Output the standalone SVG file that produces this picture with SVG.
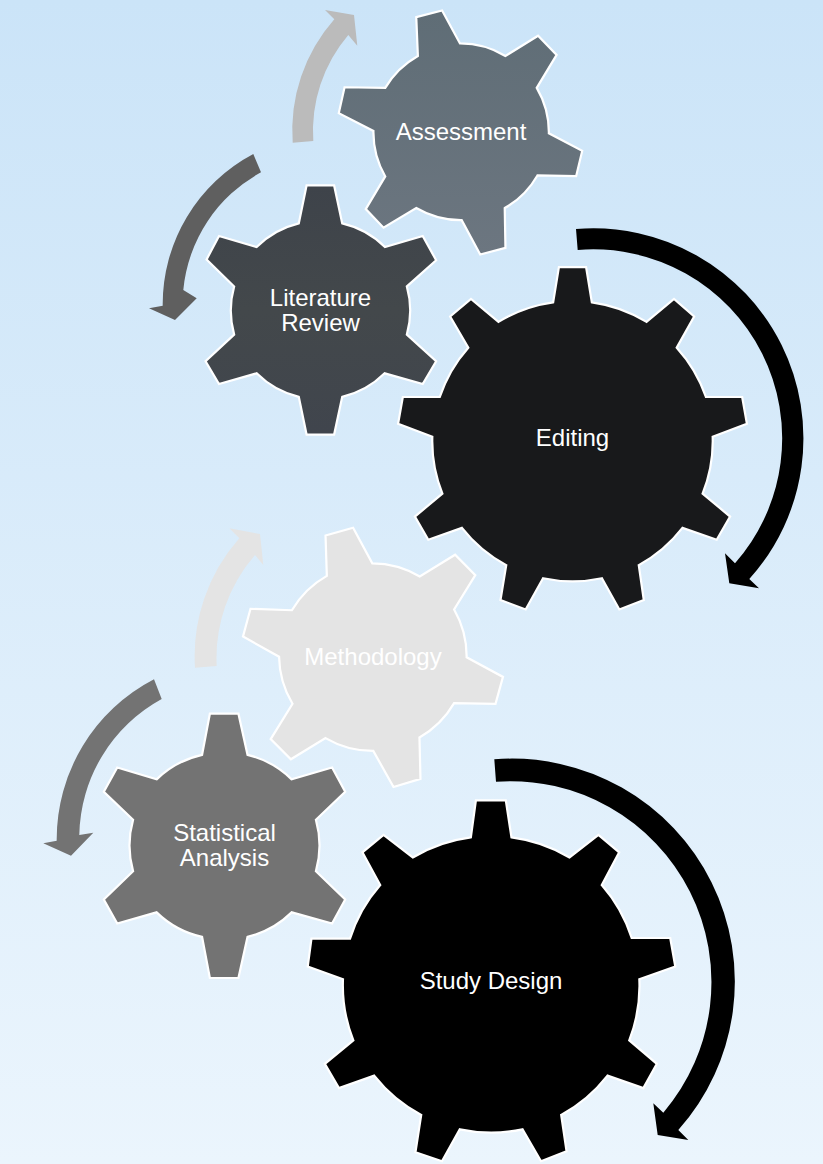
<svg xmlns="http://www.w3.org/2000/svg" width="823" height="1164" viewBox="0 0 823 1164">
<defs>
<linearGradient id="bg" x1="0" y1="0" x2="0" y2="1"><stop offset="0" stop-color="#cbe4f8"/><stop offset="1" stop-color="#ebf5fd"/></linearGradient>
<linearGradient id="gA" x1="0" y1="0" x2="0" y2="1"><stop offset="0" stop-color="#5f6d76"/><stop offset="1" stop-color="#6c7680"/></linearGradient>
<linearGradient id="gL" x1="0" y1="0" x2="0" y2="1"><stop offset="0" stop-color="#3e434a"/><stop offset="0.5" stop-color="#43484b"/><stop offset="1" stop-color="#40454d"/></linearGradient>
</defs>
<style>
.gear{stroke:#fff;stroke-width:2.2;stroke-linejoin:miter}
.lbl{font-family:"Liberation Sans",Arial,sans-serif;font-size:24px;fill:#fff;text-anchor:middle}
</style>
<rect width="823" height="1164" fill="url(#bg)"/>
<g id="connectors">
<path fill="#bbbbbb" d="M292.7 142.7A168 168 0 0 1 334.3 19.3L325 10L354 15L357.3 45.7L348.3 35A148 148 0 0 0 313.3 141Z"/>
<path fill="#5f5f5f" d="M253.3 154A170 170 0 0 0 162.7 305.7L149 308.3L175 320L196.7 298.3L183.3 290A150 150 0 0 1 261 172.3Z"/>
<path fill="#000" d="M576 229A210 210 0 0 1 749.3 579L759 588.3L729.3 583.3L725 553.3L735 563.3A189 189 0 0 0 577.7 250Z"/>
<path fill="#e4e4e4" d="M195 667.7A178 178 0 0 1 239.3 538.3L229.3 528.3L260 534L263.3 565L255 555A157 157 0 0 0 216.7 666Z"/>
<path fill="#737373" d="M154 679.3A180 180 0 0 0 56.7 840.7L43.3 843.3L71 855.7L93.3 832.7L79.3 835A158 158 0 0 1 161.7 699Z"/>
<path fill="#000" d="M494.3 759.3A223 223 0 0 1 678.3 1130L688.3 1140L657.7 1135L653.3 1103.3L663.3 1112.7A201 201 0 0 0 496 781.7Z"/>
</g>
<g id="assessment">
<path class="gear" fill="url(#gA)" transform="translate(461 132) scale(1.01) translate(-461 -132)" d="M416.7 18.3L442.3 11.7L460 44.3A87 87 0 0 1 505 56.7L537.3 36.7L555.7 55.7L536 88.3A87 87 0 0 1 548 133.3L581 150.7L575 175.7L536.7 175A87 87 0 0 1 504.3 207.3L505 246.7L480 253.3L461.7 219.3A87 87 0 0 1 416.7 207.3L384.3 226.7L366.7 208.3L386 176A87 87 0 0 1 374.3 131L340 113.3L345.7 87.7L386 88.3A87 87 0 0 1 418.3 56.7Z"/>
<text class="lbl" x="461" y="140">Assessment</text>
</g>
<g id="literature-review">
<path class="gear" fill="url(#gL)" transform="translate(320.5 310) scale(1.01) translate(-320.5 -310)" d="M306.7 186.7L334 186.7L342 224.3A88 88 0 0 1 384.3 247.7L421.7 236.7L435 260.7L406 286.7A88 88 0 0 1 406 334.3L435 360.7L421.7 383.3L384 372.7A88 88 0 0 1 342 396L334 433.3L306.7 433.3L299 396A88 88 0 0 1 257.3 372.7L220 383.3L206.7 360.7L235 334.3A88 88 0 0 1 235 286.7L207.7 260L220 236.7L257.3 247.7A88 88 0 0 1 299 224.3Z"/>
<text class="lbl" x="320.5" y="305.5">Literature</text>
<text class="lbl" x="320.5" y="330.5">Review</text>
</g>
<g id="editing">
<path class="gear" fill="#18191b" transform="translate(572.5 441) scale(1.007) translate(-572.5 -441)" d="M559 268.3L586 268.3L591.7 303.3A140 140 0 0 1 646 322.7L673.3 300L693.3 317.3L676 348.3A140 140 0 0 1 705 397.3L741 397.3L745.7 424L711.7 436.7A140 140 0 0 1 701.7 493.3L729 516L715.7 539L681.7 527.3A140 140 0 0 1 638.3 564.3L643.3 599L619 608.3L601.7 577.3A140 140 0 0 1 543.3 577.3L526 608.3L501 599L506.7 564.3A140 140 0 0 1 462.7 527.3L429.3 539L416 516L443.3 493.3A140 140 0 0 1 433.3 436.7L399.3 424L404 397.3L440.7 397.3A140 140 0 0 1 469 348.3L451 317.3L471.7 300L499 322.7A140 140 0 0 1 553.3 303.3Z"/>
<text class="lbl" x="572.5" y="446">Editing</text>
</g>
<g id="methodology">
<path class="gear" fill="#e4e4e4" transform="translate(373 657) scale(1.01) translate(-373 -657)" d="M326 536.7L353.3 529L372.3 564.3A93 93 0 0 1 419.3 577.3L454.3 555.7L474.3 576L453.3 610A93 93 0 0 1 465.7 657.3L501.7 676.7L494.3 703.3L453.3 702.7A93 93 0 0 1 419 736.7L420 777.7L393.3 785.7L373.3 750A93 93 0 0 1 326 737.3L291.7 758.3L271.7 738.3L293.3 703.3A93 93 0 0 1 280 656.7L244.3 636.7L251.7 609.3L292.7 610.7A93 93 0 0 1 327.3 576.7Z"/>
<text class="lbl" x="373" y="665">Methodology</text>
</g>
<g id="statistical-analysis">
<path class="gear" fill="#737373" transform="translate(224.5 846) scale(1.01) translate(-224.5 -846)" d="M210 715L238.3 715L247.3 755.7A94 94 0 0 1 291 780L331 768.3L344 792.3L315 820A94 94 0 0 1 315 871L344 899L331 922.7L291 911.7A94 94 0 0 1 247.3 936L238.3 976.7L210 976.7L202.3 936A94 94 0 0 1 157.3 911.7L118.3 922.7L105 899L134 871A94 94 0 0 1 134 820L105 792.3L118.3 768.3L157.3 780A94 94 0 0 1 202.3 755.7Z"/>
<text class="lbl" x="224.5" y="841">Statistical</text>
<text class="lbl" x="224.5" y="866">Analysis</text>
</g>
<g id="study-design">
<path class="gear" fill="#000" transform="translate(491 983) scale(1.007) translate(-491 -983)" d="M476 801.7L505.7 801.7L511.3 838.3A148 148 0 0 1 569 858.3L597.7 836L618.3 853.3L601 885.7A148 148 0 0 1 630.7 938.3L669 938.3L674 966.7L638.3 979.3A148 148 0 0 1 628.3 1040L655.7 1063.3L642.3 1087.3L606.7 1075A148 148 0 0 1 560.7 1114L566 1150L540.7 1160L522.3 1128.3A148 148 0 0 1 460 1128.3L442.3 1160L416 1151L421.7 1114A148 148 0 0 1 375 1075L340 1087.3L326 1063.3L354.3 1040A148 148 0 0 1 344 979.3L309 966.7L312.7 939L351 939A148 148 0 0 1 381 885.7L363.3 853.3L384.3 836L413.3 858.3A148 148 0 0 1 471 838.3Z"/>
<text class="lbl" x="491" y="989">Study Design</text>
</g>
</svg>
